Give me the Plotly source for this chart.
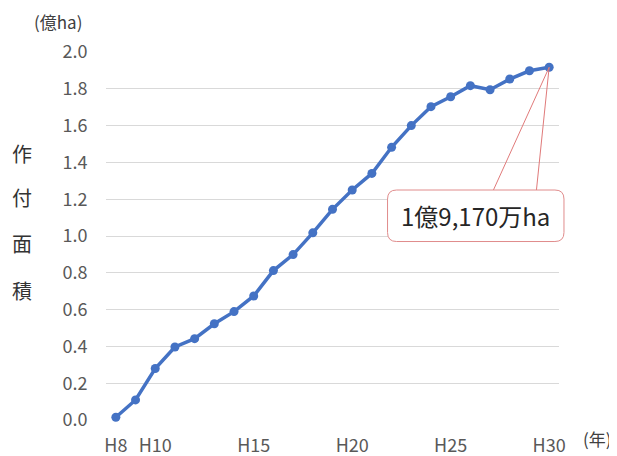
import plotly.graph_objects as go

years = ["H8","H9","H10","H11","H12","H13","H14","H15","H16","H17","H18","H19",
         "H20","H21","H22","H23","H24","H25","H26","H27","H28","H29","H30"]
area = [0.015, 0.109, 0.28, 0.397, 0.442, 0.523, 0.589, 0.674, 0.812, 0.899, 1.017, 1.145,
        1.25, 1.34, 1.482, 1.60, 1.703, 1.757, 1.817, 1.795, 1.853, 1.898, 1.917]
tick_labels = ["H8", "H10", "H15", "H20", "H25", "H30"]
y_ticks = [0.0, 0.2, 0.4, 0.6, 0.8, 1.0, 1.2, 1.4, 1.6, 1.8, 2.0]
callout_text = "1億9,170万ha"

idx = list(range(len(years)))
tick_idx = [years.index(t) for t in tick_labels]
last_i = idx[-1]
last_v = area[-1]

font_family = "Noto Sans CJK JP, Noto Sans, sans-serif"
grey = "#595959"

fig = go.Figure()
fig.add_trace(go.Scatter(
    x=idx, y=area, mode="lines+markers",
    line=dict(color="#4472C4", width=3.5),
    marker=dict(color="#4472C4", size=9),
    cliponaxis=False, showlegend=False,
))

# callout box geometry (paper coordinates) and pointer lines (data coords)
box_x0, box_x1 = 0.6215, 1.0110
box_y0, box_y1 = 0.485, 0.625
line_top_y = 1.245

shapes = [
    dict(type="line", xref="x", yref="y", x0=last_i, y0=last_v, x1=last_i - 2.85, y1=line_top_y,
         line=dict(color="#E07A7A", width=1)),
    dict(type="line", xref="x", yref="y", x0=last_i, y0=last_v, x1=last_i - 0.65, y1=line_top_y,
         line=dict(color="#E07A7A", width=1)),
]
r = 0.02
ry = r * 453 / 368
path = (f"M {box_x0 + r},{box_y1} L {box_x1 - r},{box_y1} Q {box_x1},{box_y1} {box_x1},{box_y1 - ry} "
        f"L {box_x1},{box_y0 + ry} Q {box_x1},{box_y0} {box_x1 - r},{box_y0} "
        f"L {box_x0 + r},{box_y0} Q {box_x0},{box_y0} {box_x0},{box_y0 + ry} "
        f"L {box_x0},{box_y1 - ry} Q {box_x0},{box_y1} {box_x0 + r},{box_y1} Z")
shapes.append(dict(type="path", xref="paper", yref="paper", path=path,
                   line=dict(color="#E08C8C", width=1), fillcolor="white", layer="above"))

annotations = [
    dict(text=callout_text, xref="paper", yref="paper", x=(box_x0 + box_x1) / 2, y=(box_y0 + box_y1) / 2,
         xanchor="center", yanchor="middle",
         showarrow=False, font=dict(size=24, color="#262626", family=font_family)),
    dict(text="(億ha)", xref="paper", yref="paper", x=-0.106, y=1.0835, xanchor="center", yanchor="middle",
         showarrow=False, font=dict(size=17, color="#404040", family=font_family)),
    dict(text="(年)", xref="paper", yref="paper", x=1.086, y=-0.049, xanchor="center", yanchor="middle",
         showarrow=False, font=dict(size=17, color="#404040", family=font_family)),
]
for ch, yp in zip(["作", "付", "面", "積"], [153, 197, 243, 290]):
    annotations.append(dict(text=ch, xref="paper", yref="paper", x=-0.185, y=(420 - yp) / 368,
                            xanchor="center", yanchor="middle", showarrow=False,
                            font=dict(size=20, color="#333333", family=font_family)))

# the page body has an 8px margin, so the figure is sized 8px smaller each way
fig.update_layout(
    width=609, height=448,
    margin=dict(l=98, r=58, t=44, b=36, autoexpand=False),
    paper_bgcolor="white", plot_bgcolor="white",
    font=dict(family=font_family, color=grey, size=18),
    xaxis=dict(range=[-0.5, len(years) - 0.5], tickvals=tick_idx, ticktext=tick_labels,
               showgrid=False, zeroline=False, showline=False, automargin=False,
               ticks="outside", ticklen=9, tickcolor="rgba(0,0,0,0)",
               tickfont=dict(size=18, color=grey)),
    yaxis=dict(range=[0, 2.0], tickvals=y_ticks, ticktext=[f"{v:.1f}" for v in y_ticks],
               showgrid=True, gridcolor="#D9D9D9", gridwidth=1, zeroline=False, showline=False,
               automargin=False,
               ticks="outside", ticklen=14, tickcolor="rgba(0,0,0,0)",
               tickfont=dict(size=18, color=grey)),
    shapes=shapes, annotations=annotations,
)

fig.write_html("out.html")
